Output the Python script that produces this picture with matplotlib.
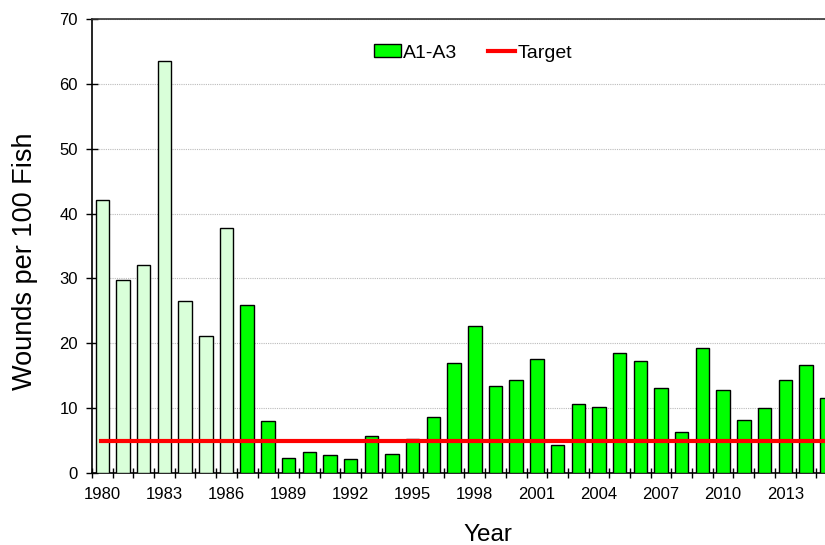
import matplotlib
matplotlib.use("Agg")
import matplotlib.pyplot as plt
from matplotlib.patches import Patch
from matplotlib.lines import Line2D
import numpy as np

plt.rcParams['font.family'] = ['Liberation Sans', 'DejaVu Sans']

years = list(range(1980, 2016))
wounds = [42.1, 29.7, 32.1, 63.6, 26.5, 21.2, 37.8, 25.9, 8.0, 2.3,
          3.3, 2.7, 2.2, 5.7, 3.0, 5.3, 8.7, 16.9, 22.7, 13.4,
          14.3, 17.6, 4.3, 10.6, 10.2, 18.5, 17.3, 13.1, 6.3, 19.3,
          12.8, 8.2, 10.1, 14.3, 16.6, 11.5]
target = 5.0
early_end = 1986  # years up to this one drawn in the pale colour

pale = '#d9ffd9'
bright = '#00ff00'

fig = plt.figure(figsize=(8.25, 5.45), dpi=100)
ax = fig.add_axes([0.1115, 0.1321, 0.903, 0.833])

x = np.arange(len(years))
colors = [pale if y <= early_end else bright for y in years]
ax.bar(x, wounds, width=0.65, color=colors, edgecolor='black', linewidth=1.0,
       zorder=3)
ax.plot([-0.07, len(years) - 0.5], [target, target], color='#ff0000',
        linewidth=3, zorder=4)

ax.set_xlim(-0.5, len(years) - 0.5)
ax.set_ylim(0, 70)
ax.set_yticks(np.arange(0, 71, 10))
ax.yaxis.grid(True, linestyle=(0, (1, 1)), color='#bbbbbb', linewidth=0.8,
              zorder=0)

label_idx = [i for i, y in enumerate(years) if (y - 1980) % 3 == 0]
ax.set_xticks(label_idx)
ax.set_xticklabels([str(years[i]) for i in label_idx])
ax.tick_params(axis='x', which='major', length=0, pad=10, labelsize=12)
ax.set_xticks(np.arange(-0.5, len(years), 1.0), minor=True)
ax.tick_params(axis='x', which='minor', length=7, direction='inout', width=1)
ax.tick_params(axis='y', length=8, direction='inout', width=1, labelsize=12,
               pad=6)

for s in ['left', 'bottom', 'top']:
    ax.spines[s].set_linewidth(1.2)
ax.spines['top'].set_color('#333333')
ax.spines['right'].set_visible(False)

ax.set_ylabel('Wounds per 100 Fish', fontsize=19.5)
ax.yaxis.set_label_coords(-0.072, 0.467)
ax.set_xlabel('Year', fontsize=17.5)
ax.xaxis.set_label_coords(0.531, -0.113)

handles = [Patch(facecolor=bright, edgecolor='black', linewidth=1.0),
           Line2D([], [], color='#ff0000', linewidth=3)]
ax.legend(handles, ['A1-A3', 'Target'], loc='center',
          bbox_to_anchor=(0.511, 0.925), ncol=2, frameon=False, fontsize=14,
          handlelength=1.4, handleheight=0.62, handletextpad=0.1,
          columnspacing=1.6)

fig.savefig('out.png', dpi=100)
